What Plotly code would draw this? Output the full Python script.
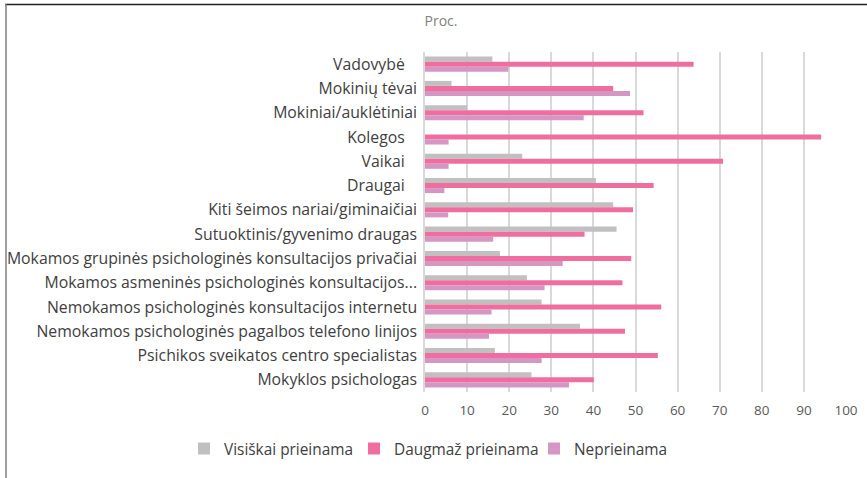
import plotly.graph_objects as go

sp = "\u00a0" * 3
categories = [
    "Vadovybė" + sp,
    "Mokinių tėvai",
    "Mokiniai/auklėtiniai",
    "Kolegos" + sp,
    "Vaikai" + sp,
    "Draugai" + sp,
    "Kiti šeimos nariai/giminaičiai",
    "Sutuoktinis/gyvenimo draugas",
    "Mokamos grupinės psichologinės konsultacijos privačiai",
    "Mokamos asmeninės psichologinės konsultacijos...",
    "Nemokamos psichologinės konsultacijos internetu",
    "Nemokamos psichologinės pagalbos telefono linijos",
    "Psichikos sveikatos centro specialistas",
    "Mokyklos psichologas",
]

visiskai = [16.0, 6.3, 10.0, 0.0, 23.1, 40.6, 44.7, 45.5, 17.8, 24.2, 27.7, 36.8, 16.6, 25.3]
daugmaz = [63.8, 44.7, 51.9, 94.1, 70.8, 54.3, 49.4, 37.9, 49.0, 46.9, 56.1, 47.5, 55.3, 40.1]
neprieinama = [19.8, 48.7, 37.7, 5.6, 5.6, 4.6, 5.5, 16.2, 32.7, 28.4, 15.8, 15.2, 27.7, 34.2]

series_names = ["Visiškai prieinama", "Daugmaž prieinama", "Neprieinama"]
series_colors = ["#C0C0C0", "#F06E9F", "#D497C3"]
x_ticks = [0, 10, 20, 30, 40, 50, 60, 70, 80, 90, 100]

W, H = 867, 478
ml, mr, mt, mb = 425, 21, 52, 86
FONT = "Open Sans"
FS = 15.8
FS_LEG = 15.4

legend_names = ["legend", "legend2", "legend3"]
legend_x_px = [184, 354, 534]

fig = go.Figure()
for name, vals, col, lg in zip(series_names, [visiskai, daugmaz, neprieinama], series_colors, legend_names):
    fig.add_trace(go.Bar(
        y=categories, x=vals, name=name, orientation="h",
        marker=dict(color=col, line=dict(width=0)),
        legend=lg,
    ))

pw = W - ml - mr
ph = H - mt - mb
def px_to_paper_x(px):
    return (px - ml) / pw
def px_to_paper_y(py):
    return (H - mb - py) / ph

fig.add_shape(type="line", xref="paper", yref="paper",
              x0=px_to_paper_x(5), x1=px_to_paper_x(867),
              y0=px_to_paper_y(4.5), y1=px_to_paper_y(4.5),
              line=dict(color="#202020", width=1.5))
fig.add_shape(type="line", xref="paper", yref="paper",
              x0=px_to_paper_x(6), x1=px_to_paper_x(6),
              y0=px_to_paper_y(4), y1=px_to_paper_y(478),
              line=dict(color="#808080", width=1.5))

legend_common = dict(orientation="h", xref="container", yref="container",
                     xanchor="left", yanchor="middle", y=1 - 449 / H,
                     font=dict(family=FONT, size=FS_LEG, color="#404040"),
                     itemwidth=30, bgcolor="rgba(0,0,0,0)")

fig.update_layout(
    width=W, height=H,
    margin=dict(l=ml, r=mr, t=mt, b=mb, autoexpand=False),
    paper_bgcolor="white", plot_bgcolor="white",
    barmode="group", bargap=0.38, bargroupgap=0,
    font=dict(family=FONT, size=FS, color="#404040"),
    title=dict(text="Proc.", x=441 / W, xanchor="center", xref="container",
               y=1 - 21 / H, yanchor="middle", yref="container",
               font=dict(family=FONT, size=14, color="#7F7F7F")),
    showlegend=True,
    legend=dict(x=legend_x_px[0] / W, **legend_common),
    legend2=dict(x=legend_x_px[1] / W, **legend_common),
    legend3=dict(x=legend_x_px[2] / W, **legend_common),
    xaxis=dict(range=[0, 100], tickvals=x_ticks, showgrid=True,
               gridcolor="#D9D9D9", gridwidth=1.5, zeroline=False,
               showline=False, ticks="", ticklabelstandoff=8,
               tickfont=dict(family=FONT, size=13.5, color="#595959")),
    yaxis=dict(autorange="reversed", showgrid=False, showline=True,
               linecolor="#D9D9D9", linewidth=1.5, ticks="",
               ticklabelstandoff=3,
               tickfont=dict(family=FONT, size=FS, color="#404040")),
)

fig.write_html("out.html", config={"displayModeBar": False},
               post_script="document.body.style.margin='0';")
